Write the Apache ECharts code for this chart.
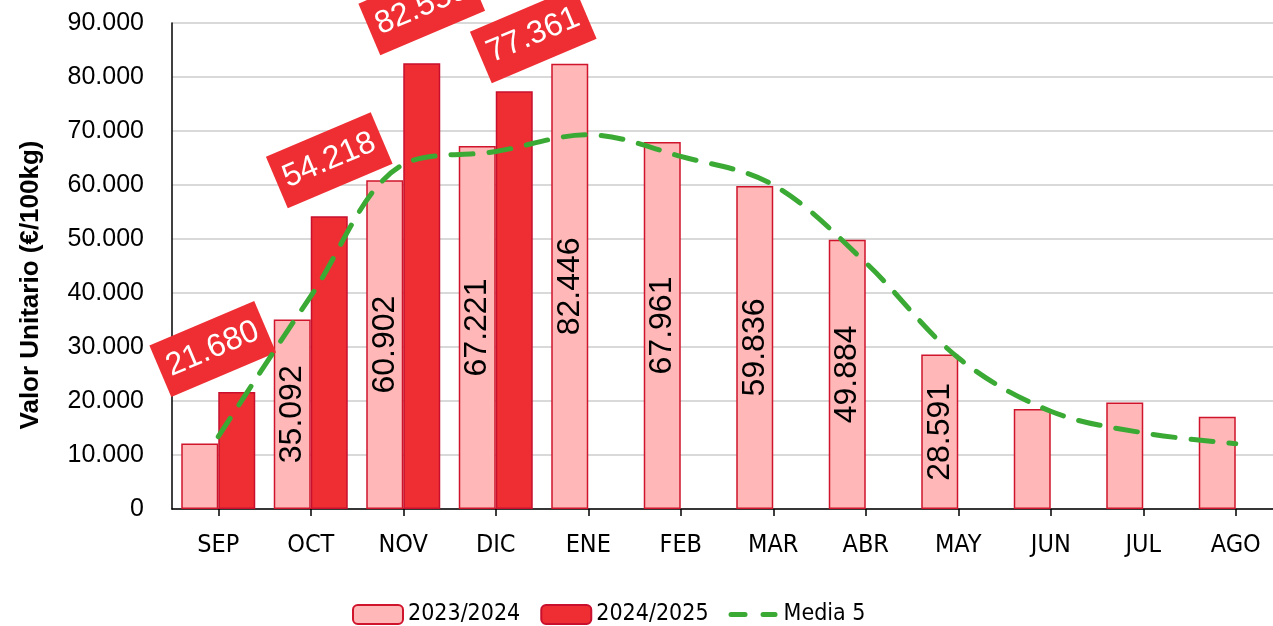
<!DOCTYPE html>
<html>
<head>
<meta charset="utf-8">
<script src="https://cdn.jsdelivr.net/npm/echarts@6/dist/echarts.min.js"></script>
<style>
html,body{margin:0;padding:0;background:#fff;overflow:hidden;width:1273px;height:626px;}
#chart{width:1282px;height:626px;}
</style>
</head>
<body>
<div id="chart"></div>
<script>
const categories = ['SEP','OCT','NOV','DIC','ENE','FEB','MAR','ABR','MAY','JUN','JUL','AGO'];
const serie2023 = [12150, 35092, 60902, 67221, 82446, 67961, 59836, 49884, 28591, 18500, 19700, 17100];
const serie2024 = [21680, 54218, 82558, 77361, null, null, null, null, null, null, null, null];
const media5 = [13400, 39400, 63800, 66200, 69300, 65300, 60000, 45600, 28000, 18100, 14100, 12100];
const seriesNames = ['2023/2024', '2024/2025', 'Media 5'];
const yTicks = [0, 10000, 20000, 30000, 40000, 50000, 60000, 70000, 80000, 90000];

function fmt(v) {
  return String(Math.round(v)).replace(/\B(?=(\d{3})+(?!\d))/g, '.');
}

const FONT = 'Liberation Sans';
const NARROW = '"Liberation Sans Narrow", "DejaVu Sans Condensed", "Liberation Sans"';
const LABEL_ANGLE = 23;
// hand-moved labels of the original, in screen pixels
const darkLabelNudge = [[-24, 13], [0, 0], [0, 0], [19, 0]];
function toLocal(d) {
  const t = LABEL_ANGLE * Math.PI / 180;
  return [d[0] * Math.cos(t) - d[1] * Math.sin(t), d[0] * Math.sin(t) + d[1] * Math.cos(t)];
}

const dashIcon = 'path://M0,0 M50,19 M2.5,7 h14 a2.5,2.5 0 0 1 0,5 h-14 a2.5,2.5 0 0 1 0,-5 z M34.5,7 h12 a2.5,2.5 0 0 1 0,5 h-12 a2.5,2.5 0 0 1 0,-5 z';

const chart = echarts.init(document.getElementById('chart'));
const option = {
  backgroundColor: '#ffffff',
  animation: false,
  textStyle: { fontFamily: FONT },
  grid: { left: 172, right: 0, top: 23, bottom: 117, containLabel: false },
  legend: {
    left: 352,
    top: 603,
    padding: 0,
    itemWidth: 50,
    itemHeight: 19,
    itemGap: 20,
    textStyle: { fontFamily: NARROW, fontSize: 23, color: '#000', padding: [0, 0, 0, 0] },
    data: [
      { name: seriesNames[0] },
      { name: seriesNames[1] },
      { name: seriesNames[2], icon: dashIcon, itemStyle: { color: '#3aaa35', borderWidth: 0 } }
    ]
  },
  xAxis: {
    type: 'category',
    data: categories,
    axisLine: { show: true, lineStyle: { color: '#000', width: 1.5 } },
    axisTick: { show: true, alignWithLabel: true, length: 7, lineStyle: { color: '#000', width: 1.5 } },
    axisLabel: { fontFamily: NARROW, fontSize: 25, color: '#000', margin: 24 }
  },
  yAxis: {
    type: 'value',
    min: yTicks[0],
    max: yTicks[yTicks.length - 1],
    interval: 10000,
    name: 'Valor Unitario (€/100kg)',
    nameLocation: 'middle',
    nameGap: 128,
    nameTextStyle: { fontFamily: FONT, fontSize: 26, fontWeight: 'bold', color: '#000', padding: [0, 38, 0, 0] },
    axisLine: { show: true, lineStyle: { color: '#000', width: 1.5 } },
    axisTick: { show: false },
    axisLabel: { fontFamily: FONT, fontSize: 25, color: '#000', margin: 28, formatter: v => fmt(v) },
    splitLine: { show: true, lineStyle: { color: '#d9d9d9', width: 2 } }
  },
  series: [
    {
      name: seriesNames[0],
      type: 'bar',
      data: serie2023,
      barGap: '0%',
      barCategoryGap: '20%',
      itemStyle: { color: '#ffb7b7', borderColor: '#d0142c', borderWidth: 1.5 },
      label: {
        show: true,
        position: 'inside',
        rotate: 90,
        fontFamily: FONT,
        fontSize: 32,
        color: '#000',
        formatter: p => (p.value >= 25000 ? fmt(p.value) : '')
      },
      z: 2
    },
    {
      name: seriesNames[1],
      type: 'bar',
      data: serie2024.map((v, i) => ({
        value: v,
        label: darkLabelNudge[i] ? { offset: toLocal(darkLabelNudge[i]) } : undefined
      })),
      itemStyle: { color: '#ef2e33', borderColor: '#c8102e', borderWidth: 1.5 },
      label: {
        show: true,
        position: 'top',
        distance: 56,
        align: 'center',
        verticalAlign: 'middle',
        rotate: LABEL_ANGLE,
        fontFamily: FONT,
        fontSize: 32,
        lineHeight: 34,
        color: '#fff',
        backgroundColor: '#ef2e33',
        padding: [11, 8, 11, 8],
        formatter: p => (p.value == null ? '' : fmt(p.value))
      },
      z: 3
    },
    {
      name: seriesNames[2],
      type: 'line',
      data: media5,
      smooth: 0.35,
      symbol: 'none',
      lineStyle: { color: '#3aaa35', width: 5, type: [22, 16], cap: 'round' },
      itemStyle: { color: '#3aaa35' },
      z: 4
    }
  ]
};
chart.setOption(option);
</script>
</body>
</html>
